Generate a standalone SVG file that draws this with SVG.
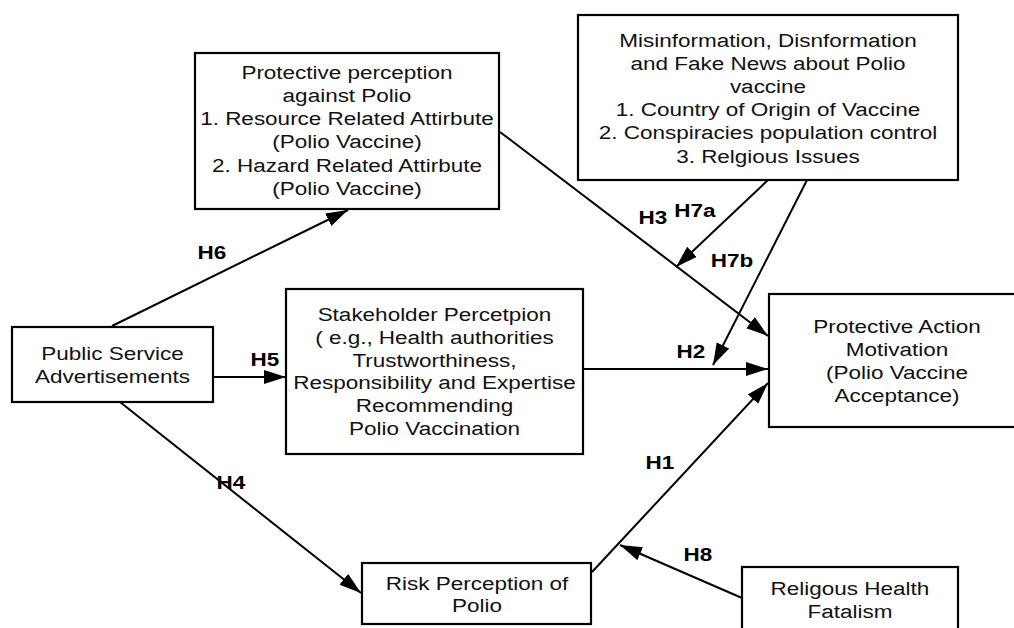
<svg xmlns="http://www.w3.org/2000/svg" width="1014" height="628" viewBox="0 0 1014 628">
<defs>
<style>
.box{fill:#fff;stroke:#000;stroke-width:2.2}
.t{font-family:"Liberation Sans",Arial,sans-serif;font-size:18px;text-anchor:middle;fill:#111}
.l{font-family:"Liberation Sans",Arial,sans-serif;font-size:18px;font-weight:bold;text-anchor:middle;fill:#000}
.c{stroke:#000;stroke-width:2;fill:none;marker-end:url(#ah)}
</style>
<marker id="ah" markerUnits="userSpaceOnUse" markerWidth="24" markerHeight="16" refX="22" refY="7" orient="auto">
<path d="M0,0 L22,7 L0,14 z" fill="#000"/>
</marker>
</defs>
<rect width="1014" height="628" fill="#fff"/>
<g id="connectors">
<line class="c" x1="112" y1="326" x2="348" y2="210"/>
<line class="c" x1="120" y1="402" x2="361" y2="593"/>
<line class="c" x1="213" y1="377" x2="286" y2="377"/>
<line class="c" x1="583" y1="369" x2="768" y2="369"/>
<line class="c" x1="500" y1="132" x2="768" y2="336"/>
<line class="c" x1="768" y1="180" x2="676" y2="267"/>
<line class="c" x1="807" y1="180" x2="713" y2="365"/>
<line class="c" x1="592" y1="572" x2="768" y2="383"/>
<line class="c" x1="742" y1="598" x2="620" y2="545"/>
<g transform="scale(1.25 1)">
<text class="l" x="169.6" y="259.5">H6</text>
<text class="l" x="212" y="366.5">H5</text>
<text class="l" x="184.8" y="489.5">H4</text>
<text class="l" x="522.4" y="224.5">H3</text>
<text class="l" x="556" y="217.5">H7a</text>
<text class="l" x="585.6" y="267.5">H7b</text>
<text class="l" x="552.8" y="358.5">H2</text>
<text class="l" x="528" y="469.5">H1</text>
<text class="l" x="558.4" y="561.5">H8</text>
</g>
</g>
<g id="protective-perception">
<rect class="box" x="195" y="53" width="304" height="156"/>
<g transform="scale(1.25 1)">
<text class="t" x="277.6" y="79">Protective perception</text>
<text class="t" x="277.6" y="102">against Polio</text>
<text class="t" x="277.6" y="125.5">1. Resource Related Attirbute</text>
<text class="t" x="277.6" y="148.5">(Polio Vaccine)</text>
<text class="t" x="277.6" y="172">2. Hazard Related Attirbute</text>
<text class="t" x="277.6" y="195">(Polio Vaccine)</text>
</g>
</g>
<g id="misinformation">
<rect class="box" x="578" y="15" width="380" height="165"/>
<g transform="scale(1.25 1)">
<text class="t" x="614.4" y="47">Misinformation, Disnformation</text>
<text class="t" x="614.4" y="70">and Fake News about Polio</text>
<text class="t" x="614.4" y="93">vaccine</text>
<text class="t" x="614.4" y="116">1. Country of Origin of Vaccine</text>
<text class="t" x="614.4" y="139.5">2. Conspiracies population control</text>
<text class="t" x="614.4" y="163">3. Relgious Issues</text>
</g>
</g>
<g id="public-service">
<rect class="box" x="12" y="327" width="201" height="75"/>
<g transform="scale(1.25 1)">
<text class="t" x="90" y="360">Public Service</text>
<text class="t" x="90" y="383">Advertisements</text>
</g>
</g>
<g id="stakeholder">
<rect class="box" x="286" y="289" width="297" height="165"/>
<g transform="scale(1.25 1)">
<text class="t" x="347.6" y="321">Stakeholder Percetpion</text>
<text class="t" x="347.6" y="344">( e.g., Health authorities</text>
<text class="t" x="347.6" y="367">Trustworthiness,</text>
<text class="t" x="347.6" y="389.5">Responsibility and Expertise</text>
<text class="t" x="347.6" y="412">Recommending</text>
<text class="t" x="347.6" y="435">Polio Vaccination</text>
</g>
</g>
<g id="protective-action">
<rect class="box" x="769" y="294" width="260" height="133"/>
<g transform="scale(1.25 1)">
<text class="t" x="717.6" y="333">Protective Action</text>
<text class="t" x="717.6" y="356">Motivation</text>
<text class="t" x="717.6" y="379">(Polio Vaccine</text>
<text class="t" x="717.6" y="402">Acceptance)</text>
</g>
</g>
<g id="risk-perception">
<rect class="box" x="362" y="563" width="229" height="61"/>
<g transform="scale(1.25 1)">
<text class="t" x="381.6" y="590">Risk Perception of</text>
<text class="t" x="381.6" y="612">Polio</text>
</g>
</g>
<g id="fatalism">
<rect class="box" x="742" y="567" width="216" height="80"/>
<g transform="scale(1.25 1)">
<text class="t" x="680" y="595">Religous Health</text>
<text class="t" x="680" y="618">Fatalism</text>
</g>
</g>
</svg>
